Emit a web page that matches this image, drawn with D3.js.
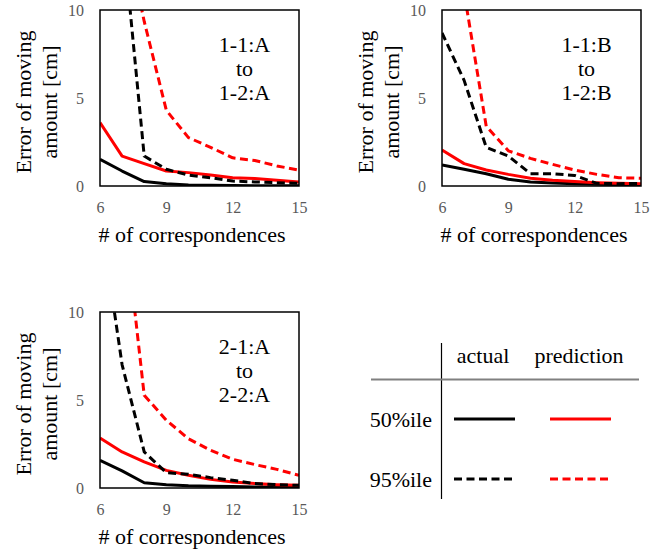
<!DOCTYPE html>
<html>
<head>
<meta charset="utf-8">
<script src="https://cdn.jsdelivr.net/npm/d3@7"></script>
<style>
  body { margin: 0; background: #fff; }
  svg { display: block; }
  text { font-family: "Times New Roman", "Liberation Serif", serif; }
</style>
</head>
<body>
<script>
// x = number of correspondences
var correspondences = [6, 7, 8, 9, 10, 11, 12, 13, 14, 15];
var xTicks = [6, 9, 12, 15];
var yTicks = [0, 5, 10];

// 1-1:A to 1-2:A
var p1Actual50 = [1.52, 0.85, 0.25, 0.13, 0.06, 0.04, 0.03, 0.02, 0.02, 0.02];
var p1Pred50   = [3.6, 1.7, 1.27, 0.85, 0.76, 0.63, 0.47, 0.42, 0.32, 0.23];
var p1Actual95 = [30, 14.7, 1.7, 0.95, 0.62, 0.47, 0.28, 0.23, 0.19, 0.15];
var p1Pred95   = [40, 15.3, 9.35, 4.3, 2.75, 2.2, 1.6, 1.45, 1.14, 0.9];

// 1-1:B to 1-2:B
var p2Actual50 = [1.19, 0.95, 0.7, 0.38, 0.23, 0.17, 0.13, 0.1, 0.08, 0.06];
var p2Pred50   = [2.05, 1.27, 0.91, 0.66, 0.44, 0.32, 0.25, 0.19, 0.15, 0.13];
var p2Actual95 = [8.7, 6.0, 2.2, 1.7, 0.7, 0.7, 0.6, 0.15, 0.13, 0.15];
var p2Pred95   = [20, 11, 3.4, 2.0, 1.57, 1.23, 0.91, 0.66, 0.47, 0.44];

// 2-1:A to 2-2:A
var p3Actual50 = [1.57, 0.97, 0.3, 0.19, 0.13, 0.1, 0.08, 0.06, 0.05, 0.05];
var p3Pred50   = [2.84, 2.05, 1.48, 1.0, 0.72, 0.49, 0.34, 0.25, 0.19, 0.15];
var p3Actual95 = [15.6, 7.0, 2.05, 0.87, 0.78, 0.59, 0.44, 0.25, 0.19, 0.15];
var p3Pred95   = [30, 16.5, 5.27, 3.85, 2.8, 2.14, 1.63, 1.33, 1.06, 0.72];

var legendRows = ['50%ile', '95%ile'];
var legendCols = ['actual', 'prediction'];

var seriesStyles = [
    { color: '#000000', dash: null },
    { color: '#ff0000', dash: null },
    { color: '#000000', dash: '8,4.5' },
    { color: '#ff0000', dash: '8,4.5' }
];

var panels = [
    { left: 100, top: 10, label: ['1-1:A', 'to', '1-2:A'],
      series: [p1Actual50, p1Pred50, p1Actual95, p1Pred95] },
    { left: 442, top: 10, label: ['1-1:B', 'to', '1-2:B'],
      series: [p2Actual50, p2Pred50, p2Actual95, p2Pred95] },
    { left: 100, top: 312, label: ['2-1:A', 'to', '2-2:A'],
      series: [p3Actual50, p3Pred50, p3Actual95, p3Pred95] }
];

var plotW = 199, plotH = 176;
var FONT = 22;

var svg = d3.select('body')
  .append('svg')
    .attr('width', 667)
    .attr('height', 555);

var x = d3.scaleLinear().domain([6, 15]).range([0, plotW]);
var y = d3.scaleLinear().domain([0, 10]).range([plotH, 0]);

var line = d3.line()
    .x(function(d) { return x(d.x); })
    .y(function(d) { return y(d.y); });

var styleTicks = function(axisG) {
    axisG.select('.domain').remove();
    axisG.selectAll('text')
        .attr('font-size', 16)
        .attr('fill', '#595959')
        .style('font-family', '"Times New Roman", "Liberation Serif", serif');
};

panels.forEach(function(p, pi) {
    var g = svg.append('g')
        .attr('transform', 'translate(' + p.left + ',' + p.top + ')');

    g.append('clipPath')
        .attr('id', 'clip' + pi)
      .append('rect')
        .attr('width', plotW)
        .attr('height', plotH);

    // tick labels only, no tick marks
    g.append('g')
        .call(d3.axisLeft(y).tickValues(yTicks).tickSize(0).tickPadding(16))
        .call(styleTicks);

    g.append('g')
        .attr('transform', 'translate(0,' + plotH + ')')
        .call(d3.axisBottom(x).tickValues(xTicks).tickSize(0).tickPadding(16))
        .call(styleTicks);

    var lines = g.append('g').attr('clip-path', 'url(#clip' + pi + ')');
    p.series.forEach(function(values, si) {
        var pts = correspondences.map(function(c, i) { return { x: c, y: values[i] }; });
        lines.append('path')
            .datum(pts)
            .attr('d', line)
            .attr('fill', 'none')
            .attr('stroke', seriesStyles[si].color)
            .attr('stroke-width', 3)
            .attr('stroke-linejoin', 'round')
            .attr('stroke-dasharray', seriesStyles[si].dash);
    });

    // plot frame
    g.append('rect')
        .attr('width', plotW)
        .attr('height', plotH)
        .attr('fill', 'none')
        .attr('stroke', '#000')
        .attr('stroke-width', 1.5);

    // panel annotation
    g.append('text')
        .attr('text-anchor', 'middle')
        .attr('font-size', FONT)
        .selectAll('tspan')
        .data(p.label)
        .enter()
      .append('tspan')
        .attr('x', 144.5)
        .attr('y', function(d, i) { return 42 + i * 24; })
        .text(function(d) { return d; });

    // x title
    g.append('text')
        .attr('x', 92)
        .attr('y', plotH + 56)
        .attr('text-anchor', 'middle')
        .attr('font-size', FONT)
        .text('# of correspondences');

    // y title, two lines
    g.append('text')
        .attr('transform', 'translate(0,' + (plotH / 2 + 4) + ') rotate(-90)')
        .attr('text-anchor', 'middle')
        .attr('font-size', FONT)
        .selectAll('tspan')
        .data(['Error of moving', 'amount [cm]'])
        .enter()
      .append('tspan')
        .attr('x', 0)
        .attr('y', function(d, i) { return -69 + i * 26; })
        .text(function(d) { return d; });
});

// legend table
var legend = svg.append('g');
var colX = d3.scalePoint().domain(legendCols).range([483, 579]);
var rowY = d3.scalePoint().domain(legendRows).range([419, 479]);

legend.append('line')
    .attr('x1', 441.5).attr('x2', 441.5)
    .attr('y1', 343).attr('y2', 499)
    .attr('stroke', '#000')
    .attr('stroke-width', 1.2);

legend.append('line')
    .attr('x1', 371).attr('x2', 639)
    .attr('y1', 379.5).attr('y2', 379.5)
    .attr('stroke', '#808080')
    .attr('stroke-width', 2);

legend.selectAll('text.col')
    .data(legendCols)
    .enter()
  .append('text')
    .attr('class', 'col')
    .attr('x', function(d) { return colX(d); })
    .attr('y', 363)
    .attr('text-anchor', 'middle')
    .attr('font-size', FONT)
    .text(function(d) { return d; });

legend.selectAll('text.row')
    .data(legendRows)
    .enter()
  .append('text')
    .attr('class', 'row')
    .attr('x', 432)
    .attr('y', function(d) { return rowY(d) + 8; })
    .attr('text-anchor', 'end')
    .attr('font-size', FONT)
    .text(function(d) { return d; });

legendRows.forEach(function(r, ri) {
    legendCols.forEach(function(c, ci) {
        var style = seriesStyles[ri * 2 + ci];
        legend.append('line')
            .attr('x1', colX(c) - 29)
            .attr('x2', colX(c) + 32)
            .attr('y1', rowY(r))
            .attr('y2', rowY(r))
            .attr('stroke', style.color)
            .attr('stroke-width', 3)
            .attr('stroke-dasharray', style.dash);
    });
});
</script>
</body>
</html>
